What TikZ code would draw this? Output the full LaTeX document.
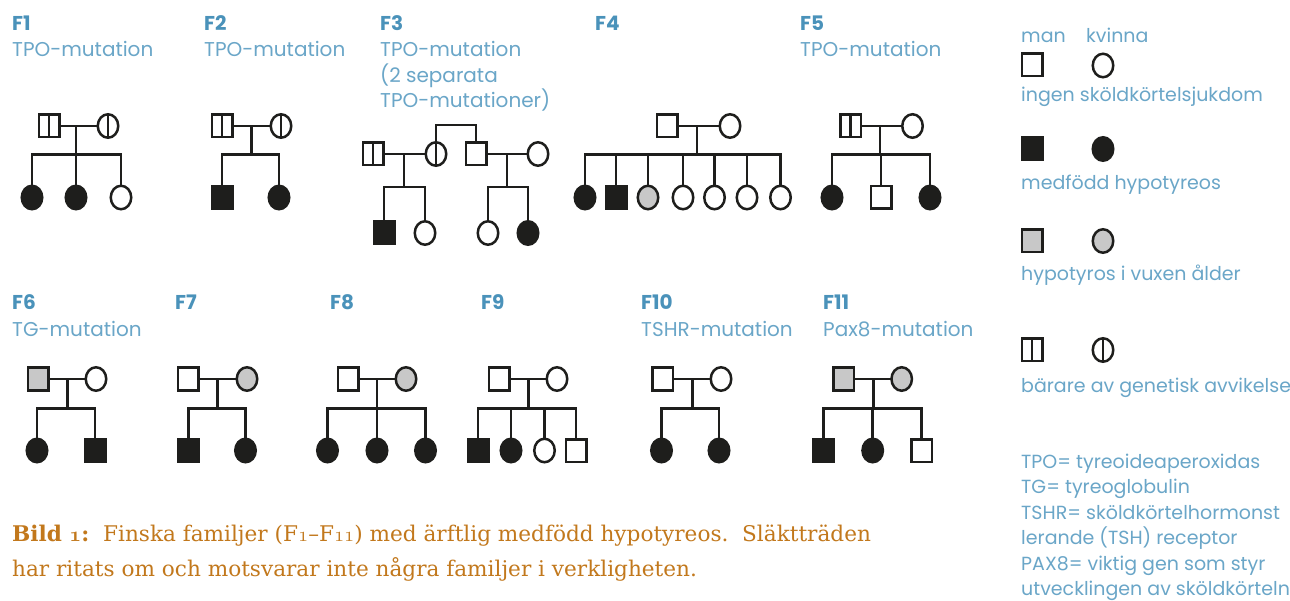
\documentclass[tikz,border=0pt]{standalone}
\usepackage{fontspec}
\setmainfont{Poppins}
\newfontfamily\capfont{DejaVu Serif}
\usetikzlibrary{shapes.geometric}
\definecolor{ink}{RGB}{30,30,28}
\definecolor{greyfill}{RGB}{200,200,200}
\definecolor{tblue}{RGB}{106,166,200}
\definecolor{fblue}{RGB}{74,146,186}
\definecolor{capcol}{RGB}{194,120,28}
\newcommand\osn[1]{{\usefont{OML}{cmm}{m}{it}#1}}
\newcommand\osnb[1]{{\usefont{OML}{cmm}{b}{it}#1}}
\tikzset{
 sym/.style={line width=2.5pt, draw=ink, inner sep=0pt, outer sep=0pt},
 male/.style={sym, rectangle, minimum width=20.5pt, minimum height=22.5pt, fill=white},
 fem/.style={sym, ellipse, minimum width=20.5pt, minimum height=23.5pt, fill=white},
 aff/.style={fill=ink},
 adult/.style={fill=greyfill},
 carrier/.style={path picture={\draw[ink,line width=2.2pt] (path picture bounding box.north) -- (path picture bounding box.south);}},
 ln/.style={line width=2.5pt, draw=ink},
 lbl/.style={inner sep=0pt, anchor=base west, text=tblue, font=\fontsize{19}{24}\selectfont},
 mut/.style={inner sep=0pt, anchor=base west, text=tblue, font=\fontsize{20}{24}\selectfont},
 fam/.style={inner sep=0pt, anchor=base west, text=fblue, font=\fontsize{20}{24}\selectfont\bfseries},
 captxt/.style={inner sep=0pt, anchor=base west, text=capcol, font=\capfont\fontsize{21.6}{30}\selectfont},
}
\begin{document}
\begin{tikzpicture}[x=1pt,y=-1pt]
\path[fill=white,use as bounding box] (0,0) rectangle (1290,601);

% ---------- labels row 1
\node[fam] (l1) at (12,31) {F1};
\node[mut] (d1) at (12,57) {TPO-mutation};
\node[fam] (l2) at (204,31) {F2};
\node[mut] (d2) at (204,57) {TPO-mutation};
\node[fam] (l3) at (380,31) {F3};
\node[mut] (d3a) at (380,57) {TPO-mutation};
\node[mut] (d3b) at (380,82.5) {(2 separata};
\node[mut] (d3c) at (380,108) {TPO-mutationer)};
\node[fam] (l4) at (595,31) {F4};
\node[fam] (l5) at (800,31) {F5};
\node[mut] (d5) at (800,57) {TPO-mutation};

% ---------- labels row 2
\node[fam] (l6) at (12,310) {F6};
\node[mut] (d6) at (12,336.5) {TG-mutation};
\node[fam] (l7) at (175,310) {F7};
\node[fam] (l8) at (330,310) {F8};
\node[fam] (l9) at (481,310) {F9};
\node[fam] (l10) at (641,310) {F10};
\node[mut] (d10) at (641,336.5) {TSHR-mutation};
\node[fam] (l11) at (823,310) {F11};
\node[mut] (d11) at (823,336.5) {Pax8-mutation};

% ---------- F1
\node[male,carrier] (f1f) at (49,126) {};
\node[fem,carrier] (f1m) at (108,126) {};
\node[fem,aff] (f1a) at (32,197.5) {};
\node[fem,aff] (f1b) at (76,197.5) {};
\node[fem] (f1c) at (121,197.5) {};
\coordinate (f1d) at (76,126);
\coordinate (f1s) at (76,154.5);
\draw[ln] (f1f) -- (f1m);
\draw[ln] (f1d) -- (f1s);
\draw[ln] (f1a) |- (f1s) -| (f1c);
\draw[ln] (f1b) -- (f1b |- f1s);

% ---------- F2
\node[male,carrier] (f2f) at (222,126) {};
\node[fem,carrier] (f2m) at (281,126) {};
\node[male,aff] (f2a) at (222,197.5) {};
\node[fem,aff] (f2b) at (279,197.5) {};
\coordinate (f2d) at (251.5,126);
\coordinate (f2s) at (251.5,154.5);
\draw[ln] (f2f) -- (f2m);
\draw[ln] (f2d) -- (f2s);
\draw[ln] (f2a) |- (f2s) -| (f2b);

% ---------- F3
\node[male,carrier] (f3f) at (373,154) {};
\node[fem,carrier] (f3m) at (436,154) {};
\node[male,aff] (f3a) at (384,233) {};
\node[fem] (f3b) at (425,233) {};
\coordinate (f3d) at (404,154);
\coordinate (f3s) at (404,187);
\draw[ln] (f3f) -- (f3m);
\draw[ln] (f3d) -- (f3s);
\draw[ln] (f3a) |- (f3s) -| (f3b);
\node[male] (f3g) at (476,154) {};
\node[fem] (f3h) at (538,154) {};
\node[fem] (f3c) at (488,233) {};
\node[fem,aff] (f3e) at (528,233) {};
\coordinate (f3k) at (507,154);
\coordinate (f3t) at (507,187);
\draw[ln] (f3g) -- (f3h);
\draw[ln] (f3k) -- (f3t);
\draw[ln] (f3c) |- (f3t) -| (f3e);
\coordinate (f3u) at (456,125);
\draw[ln] (f3m) |- (f3u) -| (f3g);

% ---------- F4
\node[male] (f4f) at (667,126) {};
\node[fem] (f4m) at (730,126) {};
\node[fem,aff] (f4a) at (585,197.5) {};
\node[male,aff] (f4b) at (616,197.5) {};
\node[fem,adult] (f4c) at (648,197.5) {};
\node[fem] (f4e) at (683,197.5) {};
\node[fem] (f4g) at (714.5,197.5) {};
\node[fem] (f4h) at (747,197.5) {};
\node[fem] (f4i) at (780.5,197.5) {};
\coordinate (f4d) at (697,126);
\coordinate (f4s) at (697,154.5);
\draw[ln] (f4f) -- (f4m);
\draw[ln] (f4d) -- (f4s);
\draw[ln] (f4a) |- (f4s) -| (f4i);
\foreach \k in {f4b,f4c,f4e,f4g,f4h} \draw[ln] (\k) -- (\k |- f4s);

% ---------- F5
\node[male,carrier] (f5f) at (850.5,126) {};
\node[fem] (f5m) at (912.5,126) {};
\node[fem,aff] (f5a) at (832,197.5) {};
\node[male] (f5b) at (881,197.5) {};
\node[fem,aff] (f5c) at (930,197.5) {};
\coordinate (f5d) at (880,126);
\coordinate (f5s) at (880,154.5);
\draw[ln] (f5f) -- (f5m);
\draw[ln] (f5d) -- (f5s);
\draw[ln] (f5a) |- (f5s) -| (f5c);
\draw[ln] (f5b) -- (f5b |- f5s);

% ---------- F6
\node[male,adult] (f6f) at (38,379) {};
\node[fem] (f6m) at (96,379) {};
\node[fem,aff] (f6a) at (37,450.5) {};
\node[male,aff] (f6b) at (95,450.5) {};
\coordinate (f6d) at (67.5,379);
\coordinate (f6s) at (67.5,408.5);
\draw[ln] (f6f) -- (f6m);
\draw[ln] (f6d) -- (f6s);
\draw[ln] (f6a) |- (f6s) -| (f6b);

% ---------- F7
\node[male] (f7f) at (188,379) {};
\node[fem,adult] (f7m) at (247,379) {};
\node[male,aff] (f7a) at (188.5,450.5) {};
\node[fem,aff] (f7b) at (245.5,450.5) {};
\coordinate (f7d) at (217.5,379);
\coordinate (f7s) at (217.5,408.5);
\draw[ln] (f7f) -- (f7m);
\draw[ln] (f7d) -- (f7s);
\draw[ln] (f7a) |- (f7s) -| (f7b);

% ---------- F8
\node[male] (f8f) at (348,379) {};
\node[fem,adult] (f8m) at (406,379) {};
\node[fem,aff] (f8a) at (327.5,450.5) {};
\node[fem,aff] (f8b) at (377,450.5) {};
\node[fem,aff] (f8c) at (425.5,450.5) {};
\coordinate (f8d) at (377,379);
\coordinate (f8s) at (377,408.5);
\draw[ln] (f8f) -- (f8m);
\draw[ln] (f8d) -- (f8s);
\draw[ln] (f8a) |- (f8s) -| (f8c);
\draw[ln] (f8b) -- (f8b |- f8s);

% ---------- F9
\node[male] (f9f) at (499,379) {};
\node[fem] (f9m) at (557,379) {};
\node[male,aff] (f9a) at (478,450.5) {};
\node[fem,aff] (f9b) at (511,450.5) {};
\node[fem] (f9c) at (544.5,450.5) {};
\node[male] (f9e) at (576,450.5) {};
\coordinate (f9d) at (528.3,379);
\coordinate (f9s) at (528.3,408.5);
\draw[ln] (f9f) -- (f9m);
\draw[ln] (f9d) -- (f9s);
\draw[ln] (f9a) |- (f9s) -| (f9e);
\draw[ln] (f9b) -- (f9b |- f9s);
\draw[ln] (f9c) -- (f9c |- f9s);

% ---------- F10
\node[male] (f10f) at (662.5,379) {};
\node[fem] (f10m) at (721,379) {};
\node[fem,aff] (f10a) at (661.5,450.5) {};
\node[fem,aff] (f10b) at (719,450.5) {};
\coordinate (f10d) at (692.3,379);
\coordinate (f10s) at (692.3,408.5);
\draw[ln] (f10f) -- (f10m);
\draw[ln] (f10d) -- (f10s);
\draw[ln] (f10a) |- (f10s) -| (f10b);

% ---------- F11
\node[male,adult] (f11f) at (843.5,379) {};
\node[fem,adult] (f11m) at (901.7,379) {};
\node[male,aff] (f11a) at (823.3,450.5) {};
\node[fem,aff] (f11b) at (872.7,450.5) {};
\node[male] (f11c) at (921.7,450.5) {};
\coordinate (f11d) at (873.3,379);
\coordinate (f11s) at (873.3,408.5);
\draw[ln] (f11f) -- (f11m);
\draw[ln] (f11d) -- (f11s);
\draw[ln] (f11a) |- (f11s) -| (f11c);
\draw[ln] (f11b) -- (f11b |- f11s);

% ---------- legend
\node[lbl] (lgman) at (1021,42.5) {man};
\node[lbl] (lgkv) at (1086,42.5) {kvinna};
\node[male] (lg1m) at (1032,65) {};
\node[fem] (lg1f) at (1103,65.5) {};
\node[lbl] (lg1t) at (1021,101.5) {ingen sköldkörtelsjukdom};
\node[male,aff] (lg2m) at (1032,149) {};
\node[fem,aff] (lg2f) at (1103,149) {};
\node[lbl] (lg2t) at (1021,190) {medfödd hypotyreos};
\node[male,adult] (lg3m) at (1032,241) {};
\node[fem,adult] (lg3f) at (1103,241) {};
\node[lbl] (lg3t) at (1021,280.5) {hypotyros i vuxen ålder};
\node[male,carrier] (lg4m) at (1032,350) {};
\node[fem,carrier] (lg4f) at (1103,350) {};
\node[lbl] (lg4t) at (1021,392.7) {bärare av genetisk avvikelse};
\node[lbl] (ab1) at (1021,468) {TPO= tyreoideaperoxidas};
\node[lbl] (ab2) at (1021,493.5) {TG= tyreoglobulin};
\node[lbl] (ab3) at (1021,519) {TSHR= sköldkörtelhormonst};
\node[lbl] (ab4) at (1021,544.5) {lerande (TSH) receptor};
\node[lbl] (ab5) at (1021,570) {PAX8= viktig gen som styr};
\node[lbl] (ab6) at (1021,595) {utvecklingen av sköldkörteln};

% ---------- caption
\node[captxt] (cap1) at (12,541) {{\bfseries Bild \osnb{1}:}\ \ Finska familjer (F\osn{1}–F\osn{11}) med ärftlig medfödd hypotyreos.\ \ Släktträden};
\node[captxt] (cap2) at (12,576.7) {har ritats om och motsvarar inte några familjer i verkligheten.};
\end{tikzpicture}
\end{document}
